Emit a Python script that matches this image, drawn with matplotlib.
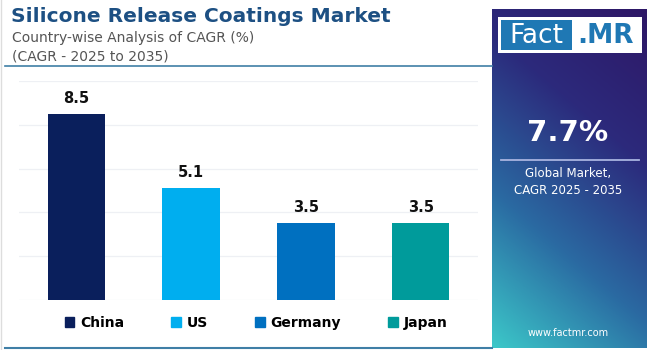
import numpy as np
import matplotlib
matplotlib.use("Agg")
import matplotlib.pyplot as plt
from matplotlib.patches import Rectangle, Patch
from matplotlib.colors import LinearSegmentedColormap
from matplotlib.lines import Line2D

# ---- data ----
countries = ["China", "US", "Germany", "Japan"]
cagr = [8.5, 5.1, 3.5, 3.5]
bar_colors = ["#0a1f5c", "#00aeef", "#0070c0", "#009b9b"]
title = "Silicone Release Coatings Market"
subtitle1 = "Country-wise Analysis of CAGR (%)"
subtitle2 = "(CAGR - 2025 to 2035)"
global_cagr = "7.7%"
global_label = "Global Market,\nCAGR 2025 - 2035"
website = "www.factmr.com"

W, H = 650, 350
fig = plt.figure(figsize=(6.5, 3.5), dpi=100)
fig.patch.set_facecolor("white")

def fx(px):
    return px / W

def fy(py):
    return 1 - py / H

# ---- bar chart ----
ax = fig.add_axes([fx(19), fy(300), fx(478) - fx(19), fy(81) - fy(300)])
x = np.arange(len(countries))
bars = ax.bar(x, cagr, width=0.5, color=bar_colors, zorder=3)
ax.set_xlim(-0.5, 3.5)
ax.set_ylim(0, 10)
ax.set_yticks([0, 2, 4, 6, 8, 10])
ax.grid(axis="y", color="#eef0f4", lw=0.9, zorder=0)
ax.tick_params(left=False, bottom=False, labelleft=False, labelbottom=False)
for s in ax.spines.values():
    s.set_visible(False)
for xi, v in zip(x, cagr):
    ax.annotate(f"{v:.1f}", (xi, v), xytext=(0, 6), textcoords="offset points",
                ha="center", va="bottom", fontsize=10.5, fontweight="bold",
                color="#111111")

# ---- legend ----
handles = [Patch(facecolor=c, edgecolor=c, label=n) for n, c in zip(countries, bar_colors)]
fig.legend(handles=handles, loc="center", bbox_to_anchor=(fx(256), fy(323)), ncol=4,
           frameon=False, handlelength=0.7, handleheight=0.7, handletextpad=0.4,
           columnspacing=3.4, prop={"weight": "bold", "size": 10})

# ---- header ----
fig.text(fx(11), fy(17), title, fontsize=14.5, fontweight="heavy", color="#1d5083",
         ha="left", va="center")
fig.text(fx(12), fy(38), subtitle1, fontsize=10, color="#555555", ha="left", va="center")
fig.text(fx(12), fy(57), subtitle2, fontsize=10, color="#555555", ha="left", va="center")
fig.add_artist(Line2D([fx(5), fx(492)], [fy(66), fy(66)], color="#3f7fa6", lw=1.2))
fig.add_artist(Line2D([fx(5), fx(492)], [fy(348), fy(348)], color="#3f7fa6", lw=1.5))
fig.add_artist(Line2D([fx(1), fx(1)], [0, 1], color="#dddddd", lw=1))

# ---- right panel ----
pax = fig.add_axes([fx(492), fy(348), fx(647) - fx(492), fy(9) - fy(348)])
gx, gy = np.meshgrid(np.linspace(0, 1, 200), np.linspace(0, 1, 400))
t = 0.72 * gy + 0.28 * gx  # gy: 0 bottom, 1 top
cmap = LinearSegmentedColormap.from_list("g", ["#3cc8c9", "#2a6aa2", "#2c2a7c", "#2e1766"])
pax.imshow(t, cmap=cmap, origin="lower", extent=[0, 1, 0, 1], aspect="auto", vmin=0, vmax=1)
pax.set_xlim(0, 1)
pax.set_ylim(0, 1)
pax.axis("off")

# logo
fig.add_artist(Rectangle((fx(498), fy(53)), fx(642) - fx(498), fy(17) - fy(53),
                         facecolor="white", edgecolor="none"))
fig.add_artist(Rectangle((fx(501), fy(50)), fx(572) - fx(501), fy(20) - fy(50),
                         facecolor="#1f78b4", edgecolor="none"))
fig.text(fx(536), fy(36), "Fact", fontsize=19, color="white", ha="center", va="center")
fig.text(fx(606), fy(36), ".MR", fontsize=19, fontweight="bold", color="#1f78b4",
         ha="center", va="center")

fig.text(fx(568), fy(133), global_cagr, fontsize=21, fontweight="bold", color="white",
         ha="center", va="center")
fig.add_artist(Line2D([fx(501), fx(639)], [fy(160), fy(160)], color="#a9b4e0", lw=1.3))
fig.text(fx(568), fy(182), global_label, fontsize=8.5, color="white", ha="center",
         va="center", linespacing=1.5)
fig.text(fx(568), fy(333), website, fontsize=7, color="white", ha="center", va="center")

fig.savefig("out.png", dpi=100)
